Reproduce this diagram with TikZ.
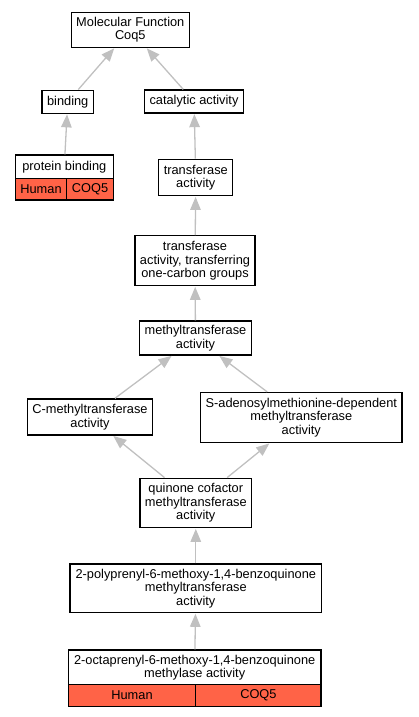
\documentclass[tikz,border=0pt]{standalone}
\usepackage{fontspec}
\setmainfont{Liberation Sans}
\usetikzlibrary{arrows.meta}
\definecolor{tomato}{HTML}{FF6347}
\definecolor{isagrey}{HTML}{C0C0C0}

\begin{document}
\begin{tikzpicture}[x=1pt,y=-1pt]
            \useasboundingbox (0,0) rectangle (419,717);
            \tikzset{isa/.style={draw=isagrey, line width=1.3pt, -{Triangle[length=13pt,width=10.5pt]}, shorten >=0.5pt},
                     cell/.style={fill=tomato, minimum height=21.5pt, inner sep=0pt}}
            \begin{scope}[every node/.style={rectangle,draw=black,line width=1.3pt,fill=white,align=center,
                          font=\fontsize{12.8}{13.4}\selectfont,inner xsep=5pt,inner ysep=0pt}]
                \node[minimum height=35pt] (mf) at (130.3,29.8) {Molecular Function\\Coq5};
                \node[minimum height=23pt] (bind) at (67.7,101.7) {binding};
                \node[minimum height=23pt] (cat) at (194,101.5) {catalytic activity};
                \node[minimum height=23.3pt, minimum width=98pt] (pb) at (64.3,166.7) {protein binding};
                \node[cell, minimum width=51.4pt] (pbhuman) at (41,189.2) {Human};
                \node[cell, minimum width=46.6pt] (pbcoq) at (90,189.2) {COQ5};
                \node[minimum height=36.5pt] (trans) at (195.8,177.5) {transferase\\activity};
                \node[minimum height=50pt] (onec) at (195,260.7) {transferase\\activity, transferring\\one-carbon groups};
                \node[minimum height=34pt] (methyl) at (195.5,338) {methyltransferase\\activity};
                \node[minimum height=36pt] (cmeth) at (90,417) {C-methyltransferase\\activity};
                \node[minimum height=50pt] (sam) at (301.3,417.5) {S-adenosylmethionine-dependent\\methyltransferase\\activity};
                \node[minimum height=49.5pt] (quin) at (195.8,503) {quinone cofactor\\methyltransferase\\activity};
                \node[minimum height=48.7pt, minimum width=251.7pt] (poly) at (195.8,588.3) {2-polyprenyl-6-methoxy-1,4-benzoquinone\\methyltransferase\\activity};
                \node[minimum height=35pt, minimum width=252.7pt] (octa) at (194.7,667.5) {2-octaprenyl-6-methoxy-1,4-benzoquinone\\methylase activity};
                \node[cell, minimum width=127.4pt] (octahuman) at (132,695.5) {Human};
                \node[cell, minimum width=125.3pt] (octacoq) at (258.4,695.5) {COQ5};
            \end{scope}
            \draw (bind) edge [isa] (mf);
            \draw (cat) edge [isa] (mf);
            \draw (pb) edge [isa] (bind);
            \draw (trans) edge [isa] (cat);
            \draw (onec) edge [isa] (trans);
            \draw (methyl) edge [isa] (onec);
            \draw (cmeth) edge [isa] (methyl);
            \draw (sam) edge [isa] (methyl);
            \draw (quin) edge [isa] (cmeth);
            \draw (quin) edge [isa] (sam);
            \draw (poly) edge [isa] (quin);
            \draw (octa) edge [isa] (poly);
        \end{tikzpicture}
\end{document}
